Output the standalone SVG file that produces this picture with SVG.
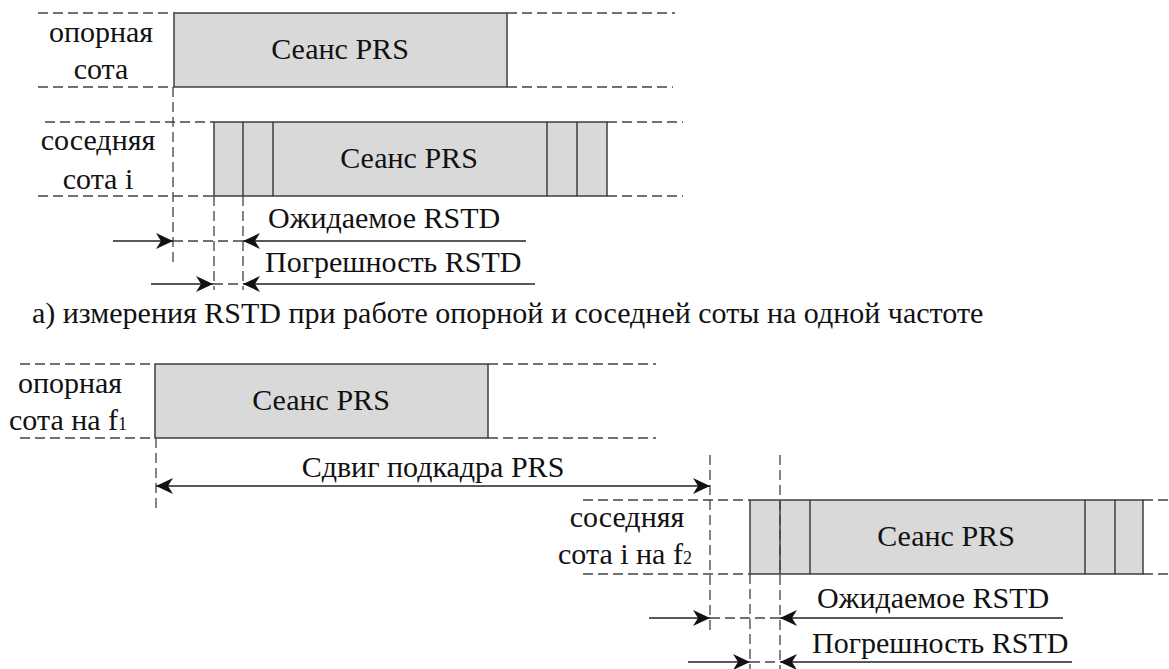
<svg xmlns="http://www.w3.org/2000/svg" width="1169" height="669" viewBox="0 0 1169 669">
<style>
.t{font-family:'Liberation Serif','Times New Roman',serif;font-size:30px;fill:#111}
.c{text-anchor:middle}
.box{fill:#d9d9d9;stroke:#333;stroke-width:1.4}
.sep{stroke:#333;stroke-width:1.4}
.d{stroke:#444;stroke-width:1.3;stroke-dasharray:10 5;fill:none}
.a{stroke:#222;stroke-width:1.4;fill:none}
.sub{font-size:18px}
</style>
<defs>
<marker id="ah" markerUnits="userSpaceOnUse" markerWidth="20" markerHeight="20" viewBox="-18 -9 20 18" refX="0" refY="0" orient="auto">
<path d="M0,0 L-17,-8 L-12,0 L-17,8 Z" fill="#111"/>
</marker>
<marker id="ahs" markerUnits="userSpaceOnUse" markerWidth="20" markerHeight="20" viewBox="-2 -9 20 18" refX="0" refY="0" orient="auto">
<path d="M0,0 L17,-8 L12,0 L17,8 Z" fill="#111"/>
</marker>
</defs>
<rect width="1169" height="669" fill="#fff"/>

<g id="top-ref">
<rect class="box" x="174" y="13" width="333" height="74"/>
<text class="t c" x="340" y="59">Сеанс PRS</text>
<text class="t c" x="101" y="42">опорная</text>
<text class="t c" x="101" y="79">сота</text>
</g>
<g id="top-neigh">
<rect class="box" x="214" y="122" width="393" height="74"/>
<line class="sep" x1="243" y1="122" x2="243" y2="196"/>
<line class="sep" x1="273" y1="122" x2="273" y2="196"/>
<line class="sep" x1="547" y1="122" x2="547" y2="196"/>
<line class="sep" x1="577" y1="122" x2="577" y2="196"/>
<text class="t c" x="409" y="168">Сеанс PRS</text>
<text class="t c" x="98" y="150">соседняя</text>
<text class="t c" x="98" y="189">сота i</text>
</g>
<g id="top-labels">
<text class="t" x="268" y="228">Ожидаемое RSTD</text>
<text class="t" x="265" y="272">Погрешность RSTD</text>
</g>
<text id="caption" class="t" x="32" y="323">а) измерения RSTD при работе опорной и соседней соты на одной частоте</text>

<g id="bot-ref">
<rect class="box" x="155" y="364" width="333" height="74"/>
<text class="t c" x="321" y="410">Сеанс PRS</text>
<text class="t c" x="70" y="393">опорная</text>
<text class="t" x="9" y="430">сота на f<tspan class="sub">1</tspan></text>
</g>
<g id="bot-neigh">
<rect class="box" x="750" y="500" width="393" height="74"/>
<line class="sep" x1="780" y1="500" x2="780" y2="574"/>
<line class="sep" x1="810" y1="500" x2="810" y2="574"/>
<line class="sep" x1="1085" y1="500" x2="1085" y2="574"/>
<line class="sep" x1="1115" y1="500" x2="1115" y2="574"/>
<text class="t c" x="946" y="546">Сеанс PRS</text>
<text class="t c" x="627" y="527">соседняя</text>
<text class="t" x="558" y="564">сота i на f<tspan class="sub">2</tspan></text>
</g>
<g id="bot-labels">
<text class="t c" x="433" y="477">Сдвиг подкадра PRS</text>
<text class="t" x="817" y="608">Ожидаемое RSTD</text>
<text class="t" x="812" y="653">Погрешность RSTD</text>
</g>

<g id="connectors">
<path class="d" d="M38,13H174 M507,13H675 M38,87H174 M507,87H673"/>
<path class="d" d="M45,122H214 M607,122H683 M38,196H214 M607,196H683"/>
<path class="d" d="M173,87V265 M214,196V290 M243,196V290"/>
<path class="d" d="M173,241H243 M213,284H243"/>
<line class="a" x1="113" y1="241" x2="173" y2="241" marker-end="url(#ah)"/>
<line class="a" x1="526" y1="241" x2="243" y2="241" marker-end="url(#ah)"/>
<line class="a" x1="151" y1="284" x2="213" y2="284" marker-end="url(#ah)"/>
<line class="a" x1="535" y1="284" x2="243" y2="284" marker-end="url(#ah)"/>
<path class="d" d="M20,364H155 M488,364H656 M20,438H155 M488,438H656"/>
<path class="d" d="M583,500H750 M1143,500H1169 M583,574H750 M1143,574H1169"/>
<path class="d" d="M156,438V512 M710,455V633 M780,455V669 M750,574V669"/>
<path class="d" d="M710,618H780 M750,662H780"/>
<line class="a" x1="156" y1="486" x2="710" y2="486" marker-start="url(#ahs)" marker-end="url(#ah)"/>
<line class="a" x1="649" y1="618" x2="710" y2="618" marker-end="url(#ah)"/>
<line class="a" x1="1063" y1="618" x2="780" y2="618" marker-end="url(#ah)"/>
<line class="a" x1="688" y1="662" x2="750" y2="662" marker-end="url(#ah)"/>
<line class="a" x1="1072" y1="662" x2="780" y2="662" marker-end="url(#ah)"/>
</g>
</svg>
